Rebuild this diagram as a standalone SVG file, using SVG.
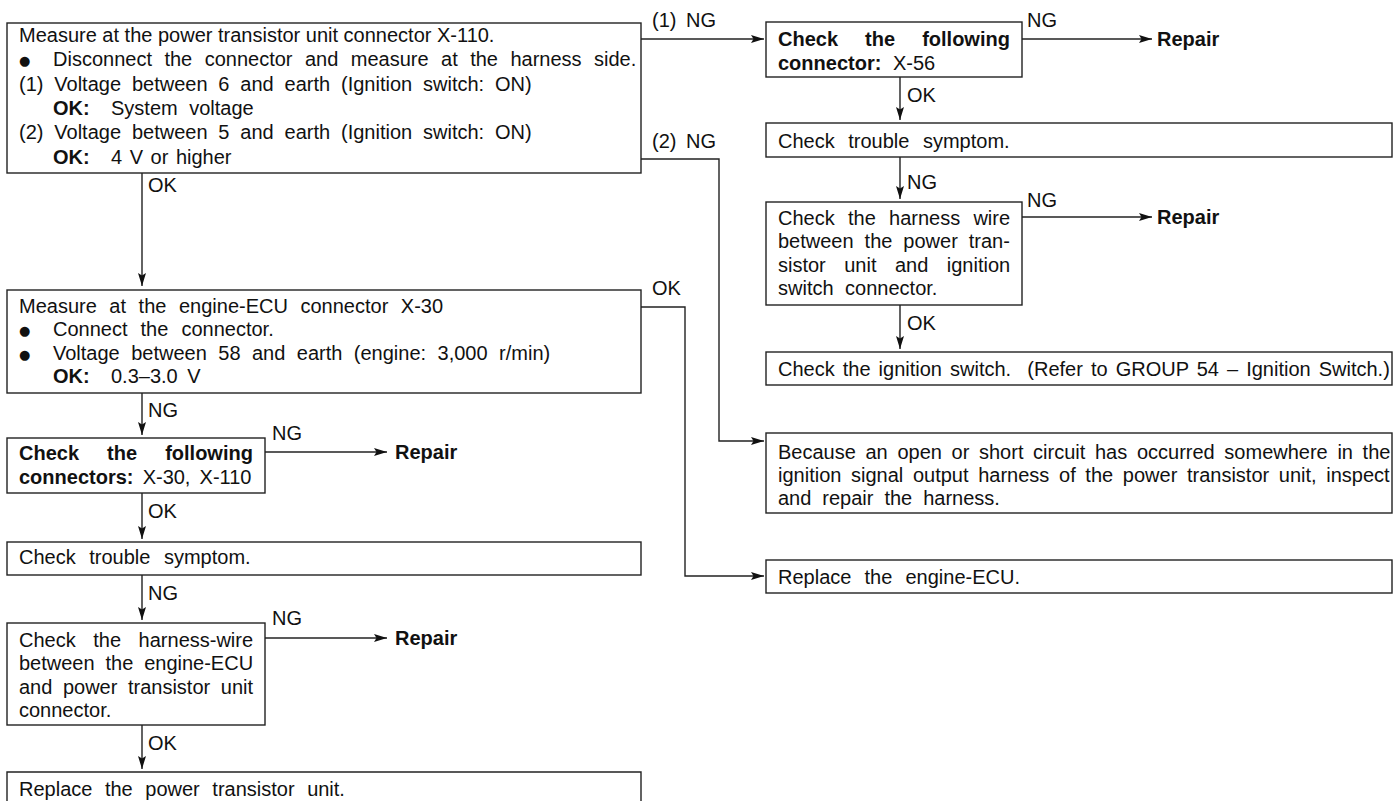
<svg xmlns="http://www.w3.org/2000/svg" width="1394" height="801" viewBox="0 0 1394 801">
<style>
text{font-family:"Liberation Sans",Arial,sans-serif;font-size:20px;fill:#111;word-spacing:6px}
.lbl{word-spacing:4px}
.b{font-weight:bold}
.bul{font-family:"DejaVu Sans","Liberation Sans",sans-serif;font-size:13px}
.box{fill:#fff;stroke:#222;stroke-width:1.4}
.ln{fill:none;stroke:#222;stroke-width:1.4}
</style>
<defs>
<marker id="ah" markerUnits="userSpaceOnUse" markerWidth="14" markerHeight="9" refX="13" refY="4.5" orient="auto">
<path d="M0,0.5 L13,4.5 L0,8.5 L2.5,4.5 Z" fill="#111"/>
</marker>
</defs>
<rect width="1394" height="801" fill="#fff"/>

<g id="connectors" class="ln">
<path class="ln" d="M641,39 H764" marker-end="url(#ah)"/>
<path class="ln" d="M1022,39 H1152" marker-end="url(#ah)"/>
<path class="ln" d="M900,77 V120" marker-end="url(#ah)"/>
<path class="ln" d="M641,159 H719 V441 H764" marker-end="url(#ah)"/>
<path class="ln" d="M900,157 V199" marker-end="url(#ah)"/>
<path class="ln" d="M1022,217 H1152" marker-end="url(#ah)"/>
<path class="ln" d="M900,305 V349" marker-end="url(#ah)"/>
<path class="ln" d="M142,173 V286" marker-end="url(#ah)"/>
<path class="ln" d="M641,307 H685 V576 H764" marker-end="url(#ah)"/>
<path class="ln" d="M142,393 V435" marker-end="url(#ah)"/>
<path class="ln" d="M265,452 H387" marker-end="url(#ah)"/>
<path class="ln" d="M142,493 V539" marker-end="url(#ah)"/>
<path class="ln" d="M142,575 V620" marker-end="url(#ah)"/>
<path class="ln" d="M265,638 H387" marker-end="url(#ah)"/>
<path class="ln" d="M142,725 V769" marker-end="url(#ah)"/>
</g>

<g id="labels">
<text class="lbl" x="652" y="27">(1) NG</text>
<text x="1027" y="27">NG</text>
<text x="1157" y="46" class="b">Repair</text>
<text x="907" y="102">OK</text>
<text class="lbl" x="652" y="148">(2) NG</text>
<text x="907" y="189">NG</text>
<text x="1027" y="207">NG</text>
<text x="1157" y="224" class="b">Repair</text>
<text x="907" y="330">OK</text>
<text x="148" y="192">OK</text>
<text x="652" y="295">OK</text>
<text x="148" y="417">NG</text>
<text x="272" y="440">NG</text>
<text x="395" y="459" class="b">Repair</text>
<text x="148" y="518">OK</text>
<text x="148" y="600">NG</text>
<text x="272" y="625">NG</text>
<text x="395" y="645" class="b">Repair</text>
<text x="148" y="750">OK</text>
</g>

<g id="n1">
<rect class="box" x="7" y="23" width="634" height="150"/>
<text x="19" y="42" style="word-spacing:0">Measure at the power transistor unit connector X-110.</text>
<text x="19" y="65" class="bul">●</text>
<text x="53" y="66" style="word-spacing:6.9px">Disconnect the connector and measure at the harness side.</text>
<text x="19" y="91" style="word-spacing:5.3px">(1) Voltage between 6 and earth (Ignition switch: ON)</text>
<text x="53" y="115" class="b">OK:</text>
<text x="111" y="115">System voltage</text>
<text x="19" y="139" style="word-spacing:5.3px">(2) Voltage between 5 and earth (Ignition switch: ON)</text>
<text x="53" y="164" class="b">OK:</text>
<text x="111" y="164" style="word-spacing:2px">4 V or higher</text>
</g>

<g id="n2">
<rect class="box" x="766" y="22" width="256" height="55"/>
<text x="778" y="46" class="b" style="word-spacing:21.5px">Check the following</text>
<text x="778" y="70"><tspan class="b">connector:</tspan> X-56</text>
</g>

<g id="n3">
<rect class="box" x="766" y="123" width="626" height="34"/>
<text x="778" y="148" style="word-spacing:8px">Check trouble symptom.</text>
</g>

<g id="n4">
<rect class="box" x="766" y="202" width="256" height="103"/>
<text x="778" y="225" style="word-spacing:7.7px">Check the harness wire</text>
<text x="778" y="248" style="word-spacing:5.4px">between the power tran-</text>
<text x="778" y="272" style="word-spacing:12.9px">sistor unit and ignition</text>
<text x="778" y="295">switch connector.</text>
</g>

<g id="n5">
<rect class="box" x="766" y="352" width="626" height="33"/>
<text x="778" y="376" style="word-spacing:2.5px" xml:space="preserve">Check the ignition switch.  (Refer to GROUP 54 – Ignition Switch.)</text>
</g>

<g id="n6">
<rect class="box" x="766" y="433" width="626" height="80"/>
<text x="778" y="459" style="word-spacing:4.1px">Because an open or short circuit has occurred somewhere in the</text>
<text x="778" y="482" style="word-spacing:4.1px">ignition signal output harness of the power transistor unit, inspect</text>
<text x="778" y="505" style="word-spacing:5.4px">and repair the harness.</text>
</g>

<g id="n7">
<rect class="box" x="766" y="560" width="626" height="33"/>
<text x="778" y="584" style="word-spacing:7.6px">Replace the engine-ECU.</text>
</g>

<g id="n8">
<rect class="box" x="7" y="290" width="634" height="103"/>
<text x="19" y="313" style="word-spacing:7px">Measure at the engine-ECU connector X-30</text>
<text x="19" y="335" class="bul">●</text>
<text x="53" y="336" style="word-spacing:7.5px">Connect the connector.</text>
<text x="19" y="359" class="bul">●</text>
<text x="53" y="360" style="word-spacing:5.9px">Voltage between 58 and earth (engine: 3,000 r/min)</text>
<text x="53" y="383" class="b">OK:</text>
<text x="111" y="383" style="word-spacing:4px">0.3–3.0 V</text>
</g>

<g id="n9">
<rect class="box" x="7" y="438" width="258" height="55"/>
<text x="19" y="460" class="b" style="word-spacing:22.5px">Check the following</text>
<text x="19" y="484" style="word-spacing:3.6px"><tspan class="b">connectors:</tspan> X-30, X-110</text>
</g>

<g id="n10">
<rect class="box" x="7" y="542" width="634" height="33"/>
<text x="19" y="564" style="word-spacing:8px">Check trouble symptom.</text>
</g>

<g id="n11">
<rect class="box" x="7" y="623" width="258" height="102"/>
<text x="19" y="647" style="word-spacing:12px">Check the harness-wire</text>
<text x="19" y="670" style="word-spacing:5.3px">between the engine-ECU</text>
<text x="19" y="694" style="word-spacing:5px">and power transistor unit</text>
<text x="19" y="717">connector.</text>
</g>

<g id="n12">
<path class="ln" d="M7,801 V772 H641 V801"/>
<text x="19" y="796" style="word-spacing:7px">Replace the power transistor unit.</text>
</g>
</svg>
